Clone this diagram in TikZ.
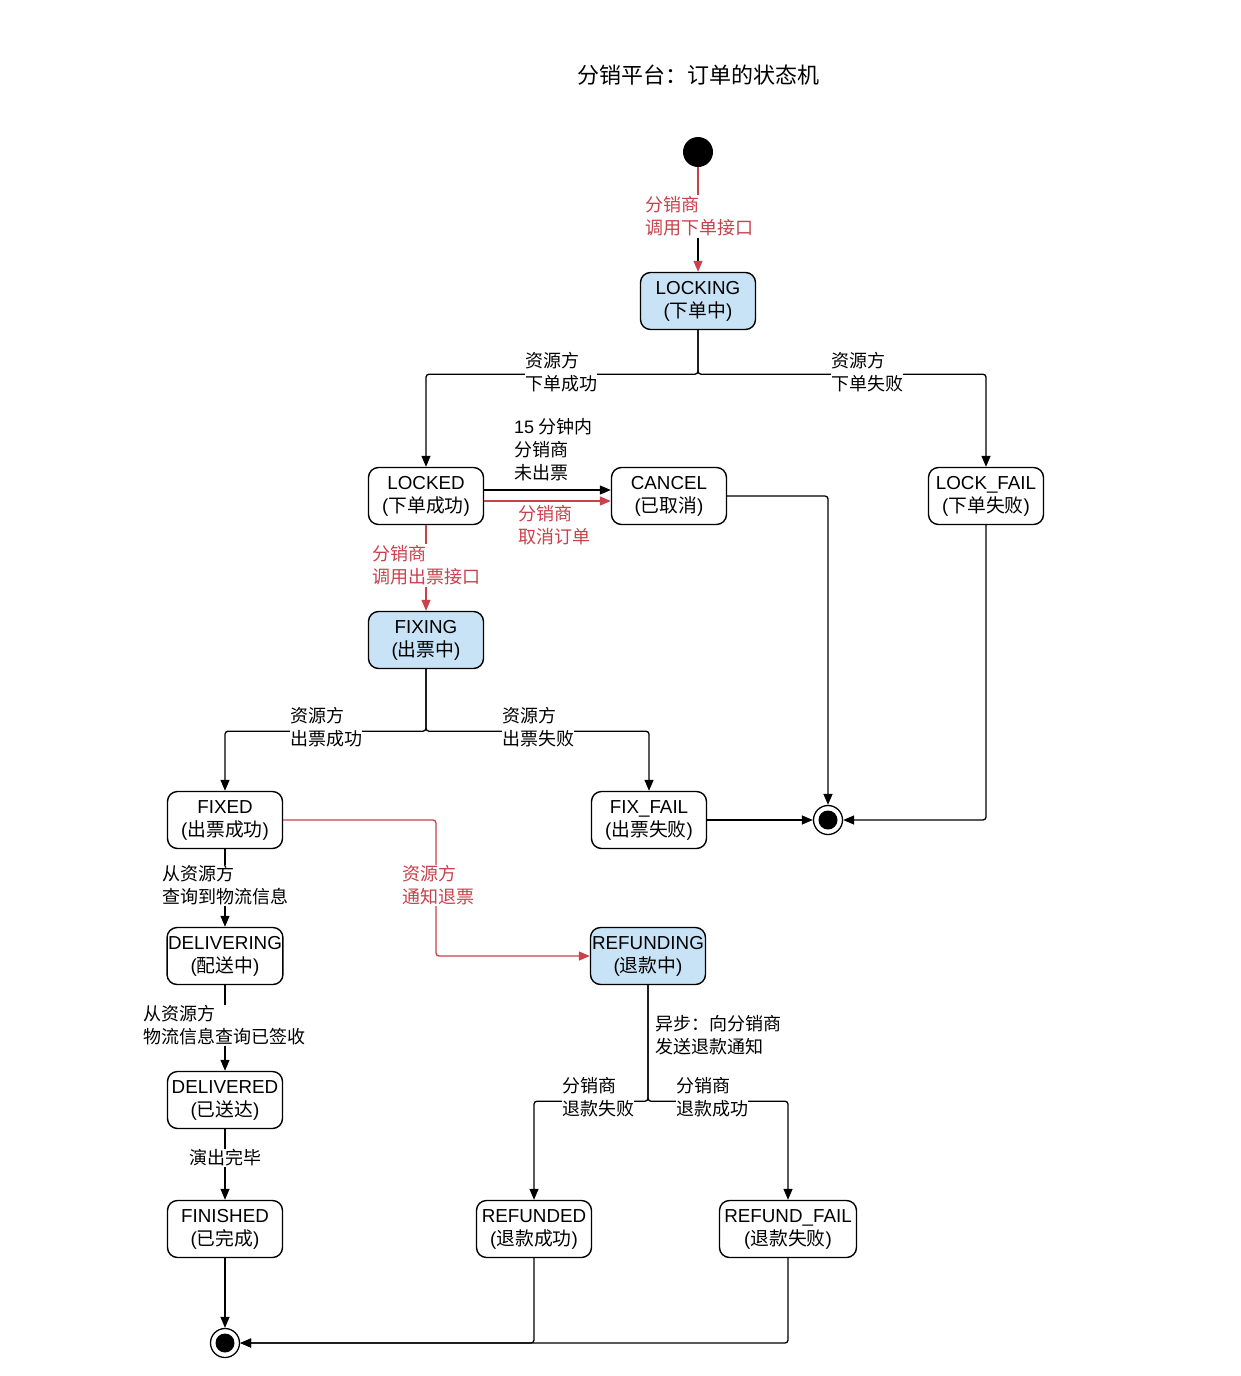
\documentclass[tikz,border=0pt]{standalone}
\usepackage{fontspec}
\setmainfont{Liberation Sans}
\newfontfamily\cjk{Noto Sans CJK SC}
\newfontfamily\lat{Liberation Sans}
\usetikzlibrary{arrows.meta}
\newcommand\zh[1]{{\cjk #1}}

\definecolor{stblue}{HTML}{C9E3F6}
\definecolor{evred}{HTML}{C8414B}

\tikzset{
  state/.style={draw, line width=1.4pt, rounded corners=10pt, minimum width=115pt,
    minimum height=57pt, inner sep=1pt, align=center,
    font=\fontsize{18.8}{23}\selectfont},
  active/.style={state, fill=stblue},
  lbl/.style={fill=white, inner xsep=0pt, inner ysep=1pt, align=left, anchor=west,
    font=\cjk\fontsize{18}{23}\selectfont},
  redlbl/.style={lbl, text=evred},
  tr/.style={line width=1.3pt, rounded corners=3pt,
    -{Triangle[length=11pt,width=9pt]}},
  trred/.style={line width=1.3pt, rounded corners=3pt, draw=evred,
    -{Triangle[length=11pt,width=9pt,color=evred]}},
  trredtip/.style={line width=1.3pt, rounded corners=3pt,
    -{Triangle[length=11pt,width=9pt,color=evred]}},
  plain/.style={line width=1.3pt, rounded corners=3pt},
  startstate/.style={circle, fill=black, minimum size=30pt, inner sep=0pt},
  endstate/.style={circle, draw, line width=1.3pt, minimum size=29pt, inner sep=0pt,
    path picture={\fill (path picture bounding box.center) circle (9.5pt);}},
}

\begin{document}
\begin{tikzpicture}[x=1pt, y=-1pt]
\useasboundingbox (0,0) rectangle (1240,1376);

% title
\node[font=\cjk\fontsize{22}{26}\selectfont] (title) at (698,75) {分销平台：订单的状态机};

% states
\node[startstate] (init) at (698,152) {};
\node[active] (locking)  at (698,301) {LOCKING\\(\zh{下单中})};
\node[state]  (locked)   at (426,496) {LOCKED\\(\zh{下单成功})};
\node[state]  (cancel)   at (669,496) {CANCEL\\(\zh{已取消})};
\node[state]  (lockfail) at (986,496) {LOCK\_FAIL\\(\zh{下单失败})};
\node[active] (fixing)   at (426,640) {FIXING\\(\zh{出票中})};
\node[state]  (fixed)    at (225,820) {FIXED\\(\zh{出票成功})};
\node[state]  (fixfail)  at (649,820) {FIX\_FAIL\\(\zh{出票失败})};
\node[endstate] (fin1)   at (828,820) {};
\node[active] (refunding) at (648,956) {REFUNDING\\(\zh{退款中})};
\node[state]  (delivering) at (225,956) {DELIVERING\\(\zh{配送中})};
\node[state]  (delivered)  at (225,1100) {DELIVERED\\(\zh{已送达})};
\node[state]  (finished)   at (225,1229) {FINISHED\\(\zh{已完成})};
\node[state]  (refunded)   at (534,1229) {REFUNDED\\(\zh{退款成功})};
\node[state, minimum width=137pt] (refundfail) at (788,1229) {REFUND\_FAIL\\(\zh{退款失败})};
\node[endstate] (fin2)   at (225,1343) {};

% labels that split a transition into two segments
\node[redlbl] (lbinit) at (645,216.5) {分销商\\调用下单接口};
\node[lbl] (lbtime) at (514,450) {{\lat 15} 分钟内\\分销商\\未出票};
\node[redlbl] (lbcancel) at (518,525.5) {分销商\\取消订单};
\node[redlbl] (lbfix) at (372,565.5) {分销商\\调用出票接口};

% transitions
\draw[plain, evred] (init) -- (init |- lbinit.north);
\draw[trredtip] (init |- lbinit.south) -- (locking);
\draw[tr] (locking.south) -- ++(0,44) -| (locked.north);
\draw[tr] (locking.south) -- ++(0,44) -| (lockfail.north);
\draw[tr] ([yshift=6pt]locked.east) -- ([yshift=6pt]cancel.west);
\draw[trred] ([yshift=-5pt]locked.east) -- ([yshift=-5pt]cancel.west);
\draw[tr] (cancel.east) -| (fin1.north);
\draw[tr] (lockfail.south) |- (fin1.east);
\draw[plain, evred] (locked.south) -- (locked.south |- lbfix.north);
\draw[trred] (locked.south |- lbfix.south) -- (fixing.north);
\draw[tr] (fixing.south) -- ++(0,62) -| (fixed.north);
\draw[tr] (fixing.south) -- ++(0,62) -| (fixfail.north);
\draw[tr] (fixfail.east) -- (fin1.west);
\draw[trred] (fixed.east) -- (436,820) -- (436,956) -- (refunding.west);
\draw[tr] (fixed.south) -- (delivering.north);
\draw[tr] (delivering.south) -- (delivered.north);
\draw[tr] (delivered.south) -- (finished.north);
\draw[tr] (finished.south) -- (fin2.north);
\draw[tr] (refunding.south) -- ++(0,116) -| (refunded.north);
\draw[tr] (refunding.south) -- ++(0,116) -| (refundfail.north);
\draw[tr] (refunded.south) |- (fin2.east);
\draw[tr] (refundfail.south) |- (fin2.east);

% labels drawn over the lines
\node[lbl] (lbok)   at (525,372.5) {资源方\\下单成功};
\node[lbl] (lbfail) at (831,372.5) {资源方\\下单失败};
\node[lbl] (lbfixok)   at (290,727.5) {资源方\\出票成功};
\node[lbl] (lbfixfail) at (502,727.5) {资源方\\出票失败};
\node[redlbl] (lbrefund) at (402,885.5) {资源方\\通知退票};
\node[lbl] (lbdeliv) at (162,885.5) {从资源方\\查询到物流信息};
\node[lbl] (lbsign)  at (143,1025.5) {从资源方\\物流信息查询已签收};
\node[lbl, anchor=center] (lbshow) at (225,1158) {演出完毕};
\node[lbl, fill=none] (lbasync) at (655,1035.5) {异步：向分销商\\发送退款通知};
\node[lbl] (lbrffail) at (562,1097.5) {分销商\\退款失败};
\node[lbl] (lbrfok)   at (676,1097.5) {分销商\\退款成功};
\end{tikzpicture}
\end{document}
